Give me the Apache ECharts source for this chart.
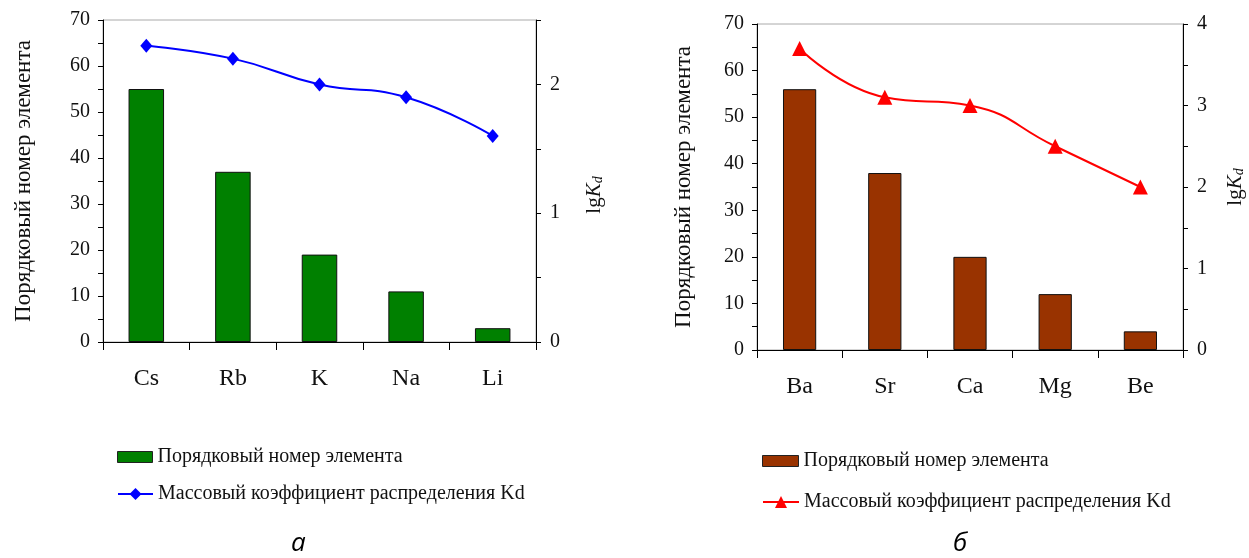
<!DOCTYPE html>
<html><head><meta charset="utf-8">
<script src="https://cdn.jsdelivr.net/npm/echarts@6/dist/echarts.min.js"></script>
<style>html,body{margin:0;padding:0;background:#fff}#c{width:1249px;height:558px}</style>
</head><body><div id="c"></div>
<script>
const catsA = ['Cs','Rb','K','Na','Li'];
const barsA = [55, 37, 19, 11, 3];
const lineA = [2.3, 2.2, 2.0, 1.9, 1.6];
const catsB = ['Ba','Sr','Ca','Mg','Be'];
const barsB = [56, 38, 20, 12, 4];
const lineB = [3.7, 3.1, 3.0, 2.5, 2.0];
const barName = 'Порядковый номер элемента';
const lineName = 'Массовый коэффициент распределения Kd';
const leftAxisName = 'Порядковый номер элемента';

const serif = '"Liberation Serif","DejaVu Serif",serif';
const chart = echarts.init(document.getElementById('c'));

function xAx(gi, cats){
  return {type:'category', gridIndex:gi, data:cats,
    axisLine:{lineStyle:{color:'#000',width:1}},
    axisTick:{show:true,length:8,lineStyle:{color:'#000'}},
    axisLabel:{fontFamily:serif,fontSize:24,color:'#111',margin:25}};
}
function yLeft(gi, gap){
  return {type:'value', gridIndex:gi, min:0, max:70, interval:5, position:'left',
    name:leftAxisName, nameLocation:'middle', nameGap:gap,
    nameTextStyle:{fontFamily:serif,fontSize:23,color:'#111'},
    axisLine:{show:true,lineStyle:{color:'#000'}},
    axisTick:{show:true,length:5,lineStyle:{color:'#000'}},
    splitLine:{show:false},
    axisLabel:{fontFamily:serif,fontSize:20,color:'#111',margin:13,
      formatter:v=> (v%10===0? String(v):'')}};
}
function yRight(gi, max, gap, pad){
  return {type:'value', gridIndex:gi, min:0, max:max, interval:0.5, position:'right',
    name:'{n|lg}{k|K}{d|d}', nameLocation:'middle', nameGap:gap,
    nameTextStyle:{fontFamily:serif,fontSize:21,color:'#111',padding:pad,
      rich:{n:{fontFamily:serif,fontSize:21,color:'#111'},
            k:{fontFamily:serif,fontSize:21,fontStyle:'italic',color:'#111'},
            d:{fontFamily:serif,fontSize:14,fontStyle:'italic',color:'#111',verticalAlign:'bottom',padding:[6,0,0,0]}}},
    axisLine:{show:true,lineStyle:{color:'#000'}},
    axisTick:{show:true,length:5,lineStyle:{color:'#000'}},
    splitLine:{show:false},
    axisLabel:{fontFamily:serif,fontSize:20,color:'#111',margin:14,
      formatter:v=> (Math.abs(v-Math.round(v))<1e-9? String(Math.round(v)):'')}};
}
const legText = {fontFamily:serif,fontSize:20,color:'#111'};

chart.setOption({
  animation:false,
  backgroundColor:'#fff',
  grid:[
    {left:103, top:20, width:433, height:322, show:true, borderColor:'#aaa', borderWidth:1},
    {left:757, top:24, width:426, height:326, show:true, borderColor:'#aaa', borderWidth:1}
  ],
  xAxis:[xAx(0,catsA), xAx(1,catsB)],
  yAxis:[yLeft(0,68), yRight(0,2.5,48,[0,28,0,0]), yLeft(1,62), yRight(1,4,42,0)],
  legend:[
    {left:112, top:442, itemWidth:35, itemHeight:11,
     data:[{name:barName, icon:'rect', itemStyle:{borderWidth:1,borderColor:'#222'}}],
     formatter:n=>n.trim(), textStyle:legText},
    {left:112, top:479, itemWidth:35, itemHeight:15,
     data:[{name:lineName}], formatter:n=>n.trim(), textStyle:legText},
    {left:757, top:446, itemWidth:36, itemHeight:11,
     data:[{name:barName+' ', icon:'rect', itemStyle:{borderWidth:1,borderColor:'#222'}}],
     formatter:n=>n.trim(), textStyle:legText},
    {left:757, top:487, itemWidth:36, itemHeight:15,
     data:[{name:lineName+' '}], formatter:n=>n.trim(), textStyle:legText}
  ],
  graphic:[
    {type:'text', left:291, top:531, style:{text:'а', font:'italic 26px "Open Sans", sans-serif', fill:'#000'}},
    {type:'text', left:953, top:531, style:{text:'б', font:'italic 26px "Open Sans", sans-serif', fill:'#000'}}
  ],
  series:[
    {name:barName, type:'bar', xAxisIndex:0, yAxisIndex:0, data:barsA, barWidth:'41%',
     itemStyle:{color:'#008000', borderColor:'#111', borderWidth:1}},
    {name:lineName, type:'line', xAxisIndex:0, yAxisIndex:1, data:lineA, smooth:true,
     symbol:'diamond', symbolSize:[12,14], lineStyle:{color:'#0000ff',width:2},
     itemStyle:{color:'#0000ff'}},
    {name:barName+' ', type:'bar', xAxisIndex:1, yAxisIndex:2, data:barsB, barWidth:'39%',
     itemStyle:{color:'#993300', borderColor:'#111', borderWidth:1}},
    {name:lineName+' ', type:'line', xAxisIndex:1, yAxisIndex:3, data:lineB, smooth:true,
     symbol:'triangle', symbolSize:15, lineStyle:{color:'#ff0000',width:2},
     itemStyle:{color:'#ff0000'}}
  ]
});
</script></body></html>
